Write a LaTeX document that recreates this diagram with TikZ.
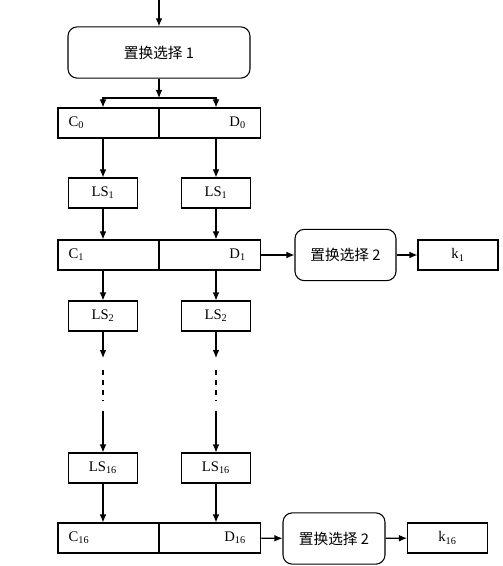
\documentclass[tikz,border=0pt]{standalone}
\usepackage{fontspec}
\setmainfont{Liberation Serif}
\newfontfamily\zhfont{Noto Sans CJK SC}
\usetikzlibrary{arrows.meta}
\begin{document}
\begin{tikzpicture}[x=0.75pt,y=-0.75pt,line width=0.8pt,>={Latex[length=6pt,width=5pt]},
  every node/.style={font=\fontsize{11}{13}\selectfont},
  cpart/.style={draw,minimum width=75.75pt,minimum height=22.5pt,inner xsep=8pt,text width=59.75pt,align=left},
  dpart/.style={draw,minimum width=75.75pt,minimum height=22.5pt,inner xsep=11pt,text width=53.75pt,align=right},
  lsbox/.style={draw,minimum width=51.75pt,minimum height=22.5pt,inner sep=0pt},
  pcbox/.style={draw,rounded corners=7pt,minimum height=38.5pt,inner sep=0pt,font=\fontsize{11}{13}\zhfont},
  kbox/.style={draw,minimum width=60pt,minimum height=22.5pt,inner sep=0pt}]
\useasboundingbox (0,0) rectangle (502,566);
% permuted choice 1
\coordinate (in) at (159,0);
\node[pcbox,minimum width=136.5pt] (pc1) at (159,52.5) {置换选择 1};
\draw[->] (in) -- (pc1);
\coordinate (split) at (159,98);
% rows of C and D
\node[cpart] (c0) at (108.5,123) {C\textsubscript{0}};
\node[dpart] (d0) at (210,123) {D\textsubscript{0}};
\node[lsbox] (ls1l) at (103,193) {LS\textsubscript{1}};
\node[lsbox] (ls1r) at (216,193) {LS\textsubscript{1}};
\node[cpart] (c1) at (108.5,255) {C\textsubscript{1}};
\node[dpart] (d1) at (210,255) {D\textsubscript{1}};
\node[lsbox] (ls2l) at (103,316) {LS\textsubscript{2}};
\node[lsbox] (ls2r) at (216,316) {LS\textsubscript{2}};
\node[lsbox] (ls16l) at (103,468) {LS\textsubscript{16}};
\node[lsbox] (ls16r) at (216,468) {LS\textsubscript{16}};
\node[cpart] (c16) at (108.5,538) {C\textsubscript{16}};
\node[dpart] (d16) at (210,538) {D\textsubscript{16}};
% permuted choice 2 and subkeys
\node[pcbox,minimum width=75.75pt] (pc2a) at (345.5,255) {置换选择 2};
\node[kbox] (k1) at (458,255) {k\textsubscript{1}};
\node[pcbox,minimum width=76.5pt] (pc2b) at (334,538.5) {置换选择 2};
\node[kbox] (k16) at (447.5,538) {k\textsubscript{16}};
% arrows
\draw[->] (pc1) -- (split);
\draw[->] (split) -| (c0.north -| ls1l);
\draw[->] (split) -| (d0.north -| ls1r);
\draw[->] (c0.south -| ls1l) -- (ls1l);
\draw[->] (d0.south -| ls1r) -- (ls1r);
\draw[->] (ls1l) -- (c1.north -| ls1l);
\draw[->] (ls1r) -- (d1.north -| ls1r);
\draw[->] (c1.south -| ls2l) -- (ls2l);
\draw[->] (d1.south -| ls2r) -- (ls2r);
\draw[->] (d1) -- (pc2a);
\draw[->] (pc2a) -- (k1);
% the skipped rounds
\coordinate (al) at (103,358); \coordinate (ar) at (216,358);
\coordinate (bl) at (103,411); \coordinate (br) at (216,411);
\draw[->] (ls2l) -- (al);
\draw[->] (ls2r) -- (ar);
\draw[dashed,dash pattern=on 4pt off 3.5pt] (103,370) -- (103,401);
\draw[dashed,dash pattern=on 4pt off 3.5pt] (216,370) -- (216,401);
\draw[->] (bl) -- (ls16l);
\draw[->] (br) -- (ls16r);
\draw[->] (ls16l) -- (c16.north -| ls16l);
\draw[->] (ls16r) -- (d16.north -| ls16r);
\draw[->] (d16) -- (pc2b);
\draw[->] (pc2b) -- (k16);
\end{tikzpicture}
\end{document}
